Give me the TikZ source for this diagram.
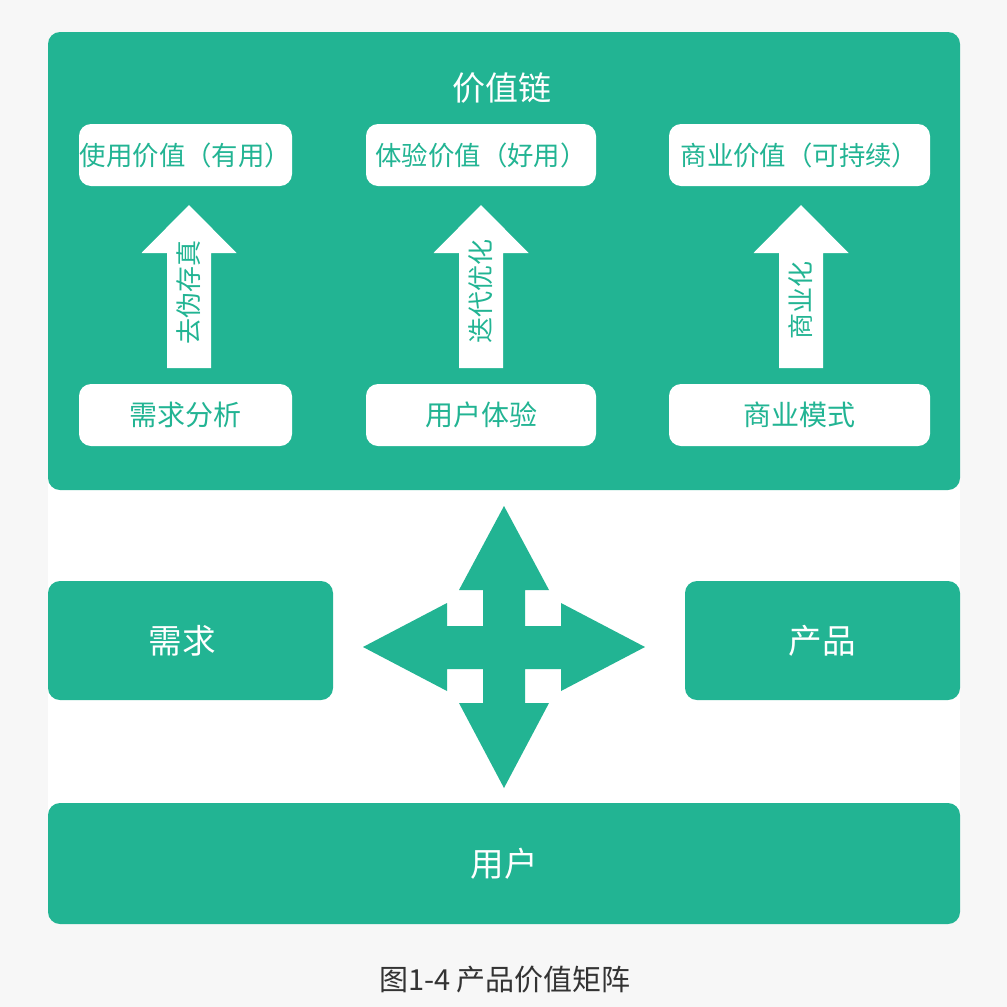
\documentclass[tikz,border=0pt]{standalone}
\usepackage{fontspec}
\newfontfamily\cjk{Noto Sans CJK SC}
\definecolor{vgreen}{HTML}{22B493}
\definecolor{pagebg}{HTML}{F7F7F7}
\definecolor{captxt}{HTML}{333333}
\tikzset{
  px/.style={x=0.5pt,y=-0.5pt},
  greenbox/.style={fill=vgreen,draw=none,rounded corners=6pt,inner sep=0pt,text=white,font=\cjk\fontsize{16.8pt}{18pt}\selectfont},
  whitebox/.style={fill=white,draw=none,rounded corners=6pt,inner sep=0pt,minimum height=31pt,text=vgreen,font=\cjk\fontsize{13.2pt}{15pt}\selectfont},
  lowbox/.style={whitebox,font=\cjk\fontsize{14pt}{16pt}\selectfont},
  arrtext/.style={rotate=90,text=vgreen,inner sep=0pt,font=\cjk\fontsize{13pt}{15pt}\selectfont},
  blockarrow/.style={fill=white,draw=none},
  crossarrow/.style={fill=vgreen,draw=none},
}
\begin{document}
\begin{tikzpicture}[px]
\useasboundingbox (0,0) rectangle (1007,1007);
\fill[pagebg] (0,0) rectangle (1007,1007);
\fill[white] (48,470) rectangle (960,823);
% top panel
\fill[vgreen,rounded corners=6pt] (48,32) rectangle (960,490);
\node[text=white,font=\cjk\fontsize{16.5pt}{18pt}\selectfont,inner sep=0pt] (title) at (502,88) {价值链};
% value boxes
\node[whitebox,minimum width=106.5pt] (v1) at (185.5,155) {使用价值（有用）};
\node[whitebox,minimum width=115pt] (v2) at (481,155) {体验价值（好用）};
\node[whitebox,minimum width=130.5pt] (v3) at (799.5,155) {商业价值（可持续）};
\node[lowbox,minimum width=106.5pt] (s1) at (185.5,415) {需求分析};
\node[lowbox,minimum width=115pt] (s2) at (481,415) {用户体验};
\node[lowbox,minimum width=130.5pt] (s3) at (799.5,415) {商业模式};
% up arrows
\foreach \cx/\nm in {189/a1,481/a2,801/a3}{
  \fill[blockarrow] (\cx,205) -- (\cx+47.5,253) -- (\cx+22,253) -- (\cx+22,368)
    -- (\cx-22,368) -- (\cx-22,253) -- (\cx-47.5,253) -- cycle;
}
\node[arrtext] (t1) at (189,292) {去伪存真};
\node[arrtext] (t2) at (481,291) {迭代优化};
\node[arrtext] (t3) at (801,300) {商业化};
% middle
\node[greenbox,minimum width=142.5pt,minimum height=59.5pt] (need) at (190.5,640.5) {\hspace*{-8pt}需求};
\node[greenbox,minimum width=137.5pt,minimum height=59.5pt] (prod) at (822.5,640.5) {产品};
\fill[crossarrow] (504,506) -- (549,590) -- (525,590) -- (525,626) -- (561,626) -- (561,603)
  -- (645,647) -- (561,691) -- (561,669) -- (525,669) -- (525,703) -- (549,703)
  -- (504,788) -- (459,703) -- (483,703) -- (483,669) -- (447,669) -- (447,691)
  -- (363,647) -- (447,603) -- (447,626) -- (483,626) -- (483,590) -- (459,590) -- cycle;
% bottom
\node[greenbox,minimum width=456pt,minimum height=60.5pt] (user) at (504,863.5) {用户};
\node[text=captxt,inner sep=0pt,font=\cjk\fontsize{14.5pt}{16pt}\selectfont] (cap) at (505,980) {图1-4 产品价值矩阵};
\end{tikzpicture}
\end{document}
